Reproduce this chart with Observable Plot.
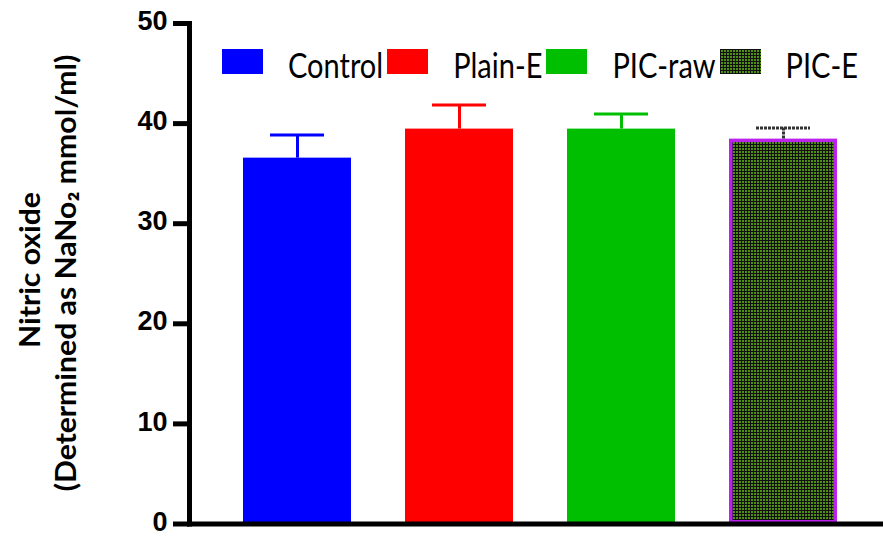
<!DOCTYPE html>
<html><head><meta charset="utf-8">
<script src="https://cdn.jsdelivr.net/npm/d3@7"></script>
<script src="https://cdn.jsdelivr.net/npm/@observablehq/plot@0.6"></script>
<style>
body{margin:0;background:#fff;}
#wrap{position:relative;width:883px;height:536px;overflow:hidden;}
#legend{position:absolute;left:222px;top:44px;display:flex;align-items:center;font-family:Lato,"Noto Sans",sans-serif;font-size:29px;color:#000;}
#legend .item{display:flex;align-items:center;margin-right:4px;}
#legend .sw{width:41px;height:25px;margin-right:25px;}
#legend .lbl{transform:scaleY(1.2);position:relative;top:3px;}
.ytitle{position:absolute;font-family:Lato,"Noto Sans",sans-serif;font-weight:bold;font-size:29px;white-space:nowrap;transform:translate(-50%,-50%) rotate(-90deg) scaleX(1.04);}
</style>
</head><body>
<div id="wrap"></div>
<script>
const groups = ["Control", "Plain-E", "PIC-raw", "PIC-E"];
const means = [36.55, 39.45, 39.45, 38.45];
const errs = [2.3, 2.4, 1.5, 1.1];
const colors = ["#0000ff", "#ff0000", "#00bf00", "url(#picPattern)"];
const capColors = ["#0000ff", "#ff0000", "#00bf00", "#333333"];
const yTicks = [0, 10, 20, 30, 40, 50];
const yTitle1 = "Nitric oxide";
const yTitle2 = "(Determined as NaNo\u2082 mmol/ml)";

const data = groups.map((g, i) => ({group: g, value: means[i], err: errs[i], fill: colors[i], cap: capColors[i]}));
const solid = data.filter(d => !d.fill.startsWith("url"));
const pat = data.filter(d => d.fill.startsWith("url"));

const defs = () => {
  const d = d3.create("svg:defs");
  const p = d.append("pattern").attr("id", "picPattern").attr("patternUnits", "userSpaceOnUse")
    .attr("width", 3).attr("height", 3);
  p.append("rect").attr("width", 3).attr("height", 3).attr("fill", "#4f9014");
  p.append("path").attr("d", "M0,0.5H3M0.5,0V3").attr("stroke", "#111").attr("stroke-width", 1);
  return d.node();
};

const chart = Plot.plot({
  width: 883, height: 536,
  marginLeft: 189, marginRight: 0, marginTop: 23, marginBottom: 12.5,
  x: {domain: groups, range: [188.6, 892], padding: 0.335, axis: null},
  y: {domain: [0, 50], ticks: yTicks, label: null},
  style: {fontFamily: "'Liberation Sans', Arial, sans-serif", background: "#fff"},
  marks: [
    defs,
    Plot.barY(solid, {x: "group", y: "value", fill: d => d.fill}),
    Plot.barY(pat, {x: "group", y: "value", fill: "url(#picPattern)", stroke: "#bb22ee", strokeWidth: 3.5, inset: 1.75}),
    Plot.ruleX(solid, {x: "group", y1: "value", y2: d => d.value + d.err, stroke: d => d.cap, strokeWidth: 3}),
    Plot.tickY(solid, {x: "group", y: d => d.value + d.err, stroke: d => d.cap, strokeWidth: 3, insetLeft: 27, insetRight: 27}),
    Plot.ruleX(pat, {x: "group", y1: "value", y2: d => d.value + d.err, stroke: d => d.cap, strokeWidth: 3, strokeDasharray: "3 1"}),
    Plot.tickY(pat, {x: "group", y: d => d.value + d.err, stroke: d => d.cap, strokeWidth: 3, strokeDasharray: "3 1", insetLeft: 27, insetRight: 27}),
    Plot.axisY({ticks: yTicks, tickSize: 16, strokeWidth: 5, text: null, label: null}),
    Plot.axisY({ticks: yTicks, tickSize: 0, tickPadding: 22, fontSize: 27, fontWeight: "bold", fill: "#000", label: null, dy: -2}),
    Plot.frame({anchor: "left", strokeWidth: 5, stroke: "#000"}),
    Plot.frame({anchor: "bottom", strokeWidth: 5, stroke: "#000"})
  ]
});
chart.querySelectorAll("text").forEach(t => { t.style.fontWeight = "bold"; });
const wrap = document.getElementById("wrap");
wrap.appendChild(chart);

// legend
const legend = document.createElement("div");
legend.id = "legend";
groups.forEach((g, i) => {
  const it = document.createElement("div"); it.className = "item";
  const sw = document.createElement("div"); sw.className = "sw";
  if (colors[i].startsWith("url")) {
    sw.style.background = "repeating-linear-gradient(0deg,#111 0 1px,transparent 1px 3px),repeating-linear-gradient(90deg,#111 0 1px,#4f9014 1px 3px)";
  } else sw.style.background = colors[i];
  const lb = document.createElement("span"); lb.className = "lbl"; lb.textContent = g;
  it.appendChild(sw); it.appendChild(lb); legend.appendChild(it);
});
wrap.appendChild(legend);

// y title
[[yTitle1, 28, 270], [yTitle2, 64, 273]].forEach(([t, x, y]) => {
  const d = document.createElement("div"); d.className = "ytitle"; d.textContent = t;
  d.style.left = x + "px"; d.style.top = y + "px";
  wrap.appendChild(d);
});
</script>
</body></html>
